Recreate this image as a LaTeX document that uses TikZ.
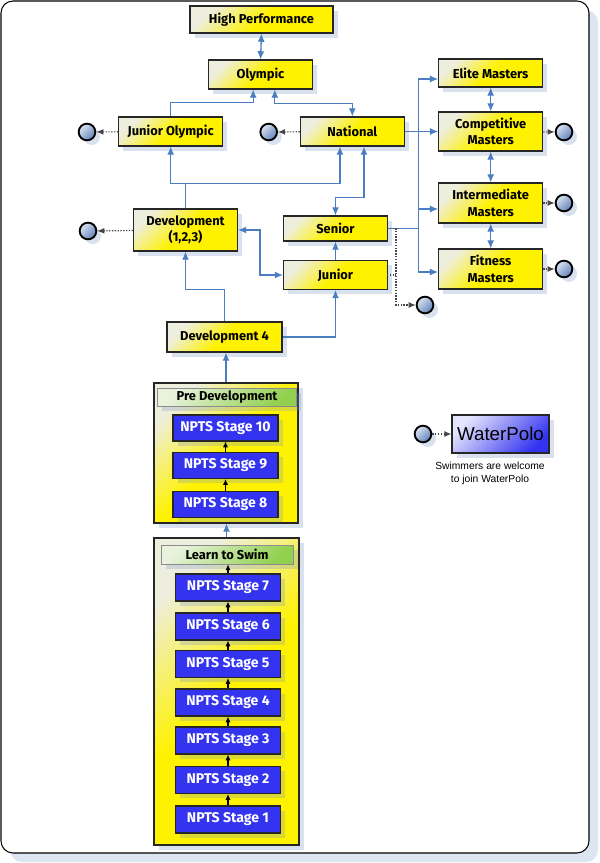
\documentclass[tikz,border=0pt]{standalone}
\usepackage{fontspec}
\setmainfont{Fira Sans}
\newfontfamily\legendfont{Liberation Sans}
\usetikzlibrary{arrows.meta,positioning,calc,shadows}

\definecolor{boxyellow}{RGB}{255,242,0}
\definecolor{paleyellow}{RGB}{238,238,222}
\definecolor{linkblue}{RGB}{74,126,193}
\definecolor{stageblue}{RGB}{51,51,240}
\definecolor{headgreen}{RGB}{146,208,80}
\definecolor{palegreen}{RGB}{232,242,220}
\definecolor{shadowblue}{RGB}{120,150,200}
\definecolor{framefill}{RGB}{220,230,242}
\definecolor{exitlight}{RGB}{220,228,240}
\definecolor{exitdark}{RGB}{95,130,188}
\definecolor{dotgray}{RGB}{70,70,70}
\definecolor{polopale}{RGB}{228,228,252}

\tikzset{
    softshadow/.style={drop shadow={shadow xshift=0.14cm, shadow yshift=-0.14cm,
        fill=shadowblue, opacity=0.28}},
    levelbox/.style={draw=black!85, line width=0.9pt, top color=paleyellow,
        bottom color=boxyellow, middle color=boxyellow, shading angle=45,
        minimum width=3.12cm, minimum height=0.87cm, inner sep=1pt, align=center,
        font=\bfseries\fontsize{11}{14}\selectfont, softshadow},
    container/.style={draw=black!85, line width=0.9pt, top color=paleyellow,
        bottom color=boxyellow, middle color=boxyellow, shading angle=45,
        inner sep=0pt, softshadow},
    headbox/.style={draw=black!45, line width=0.6pt, top color=palegreen,
        bottom color=headgreen, shading angle=45, inner sep=1pt,
        font=\bfseries\fontsize{11}{13}\selectfont, softshadow},
    stagebox/.style={draw=black!85, line width=0.9pt, fill=stageblue, text=white,
        minimum width=3.15cm, minimum height=0.78cm, inner sep=1pt,
        font=\bfseries\fontsize{12}{14}\selectfont, softshadow},
    exitpoint/.style={circle, draw=black, line width=1.6pt, inner sep=0pt,
        minimum size=0.5cm, top color=exitlight, bottom color=exitdark,
        shading angle=45, softshadow},
    polobox/.style={draw=black!85, line width=0.9pt, top color=polopale,
        bottom color=stageblue, shading angle=45, minimum width=2.91cm,
        minimum height=1.14cm, font=\legendfont\fontsize{16}{18}\selectfont,
        softshadow},
    link/.style={draw=linkblue, line width=1.1pt, -{Latex[length=7pt,width=6pt]}},
    linkboth/.style={draw=linkblue, line width=1.1pt,
        {Latex[length=7pt,width=6pt]}-{Latex[length=7pt,width=6pt]}},
    linkplain/.style={draw=linkblue, line width=1.1pt},
    exitline/.style={draw=dotgray, line width=1pt, dash pattern=on 1.2pt off 1.2pt},
    exitlink/.style={exitline, -{Latex[length=6pt,width=5pt]}},
    stepup/.style={draw=black, line width=0.9pt, -{Latex[length=5pt,width=4.5pt]}}
}

\begin{document}
\begin{tikzpicture}[x=0.03cm, y=-0.03cm]
    \useasboundingbox (0,0) rectangle (600,863);
    % outer frame
    \fill[framefill, rounded corners=0.36cm] (10,10) rectangle (598,862);
    \draw[fill=white, line width=0.9pt, rounded corners=0.36cm] (1,1) rectangle (589,853);

    % competitive levels
    \node[levelbox, minimum width=4.29cm, minimum height=0.81cm] (hp) at (261.5,19.5) {High Performance};
    \node[levelbox] (oly) at (260.5,74.5) {Olympic};
    \node[levelbox] (jrol) at (170.7,131.5) {Junior Olympic};
    \node[levelbox] (nat) at (352.3,131.5) {National};
    \node[levelbox, minimum height=1.26cm] (dev) at (185.5,230) {Development\\(1,2,3)};
    \node[levelbox, minimum height=0.75cm] (sen) at (335.5,228.5) {Senior};
    \node[levelbox] (jun) at (335.5,275) {Junior};
    \node[levelbox, minimum width=3.45cm, minimum height=0.9cm] (devfour) at (224.5,337) {Development 4};

    % masters
    \node[levelbox, minimum height=0.84cm] (elite) at (490.7,73) {Elite Masters};
    \node[levelbox, minimum height=1.17cm] (comp) at (490.7,131.5) {Competitive\\Masters};
    \node[levelbox, minimum height=1.2cm] (inter) at (490.7,203) {Intermediate\\Masters};
    \node[levelbox, minimum height=1.2cm] (fit) at (490.7,269) {Fitness\\Masters};

    % learn to swim and pre development
    \node[container, minimum width=4.32cm, minimum height=4.2cm] (predev) at (226,453) {};
    \node[headbox, minimum width=4.17cm, minimum height=0.54cm] (predevhead) at (227,397) {Pre Development};
    \node[container, minimum width=4.35cm, minimum height=9.21cm] (lts) at (226.5,691.5) {};
    \node[headbox, minimum width=3.96cm, minimum height=0.57cm] (ltshead) at (227,554.5) {Learn to Swim};
    \foreach \n/\y in {10/428, 9/465.5, 8/504.5}
        \node[stagebox] (stage\n) at (225.5,\y) {NPTS Stage \n};
    \foreach \n/\y in {7/587.5, 6/626.5, 5/664, 4/702.5, 3/740.5, 2/780, 1/819.5}
        \node[stagebox, minimum height=0.81cm] (stage\n) at (228,\y) {NPTS Stage \n};

    % exits
    \node[exitpoint] (jrolexit) at (87,132) {};
    \node[exitpoint] (natexit) at (268.7,132) {};
    \node[exitpoint] (devexit) at (88,231) {};
    \node[exitpoint] (compexit) at (564,132) {};
    \node[exitpoint] (interexit) at (564,203) {};
    \node[exitpoint] (fitexit) at (564,269) {};
    \node[exitpoint] (senexit) at (425,305) {};

    % legend
    \node[exitpoint] (legendexit) at (423,434) {};
    \node[polobox] (polo) at (500.5,434) {WaterPolo};
    \node[font=\legendfont\fontsize{8.8}{11}\selectfont, align=center] (polonote) at (490,473.5)
        {Swimmers are welcome\\to join WaterPolo};

    % pathways
    \draw[linkboth] (hp.south) -- (oly.north);
    \draw[link] (jrol.north) -- ++(0,-14) -| ([xshift=-0.22cm]oly.south);
    \draw[linkboth] ([xshift=0.43cm]oly.south) -- ++(0,14) -| (nat.north);
    \draw[link] (dev.north) -- ++(0,-25) -| (jrol.south);
    \draw[link] (dev.north) -- ++(0,-25) -| ([xshift=-0.37cm]nat.south);
    \draw[linkboth] ([xshift=0.35cm]nat.south) -- ++(0,51) -| (sen.north);
    \draw[link] (jun) -- (sen);
    \draw[linkboth] (dev.east) -- ++(22,0) |- (jun.west);
    \draw[link] (devfour.north) -- ++(0,-32) -| (dev.south);
    \draw[link] (devfour.east) -| (jun.south);
    \draw[link] (predev.north) -- (predev.north |- devfour.south);
    \draw[link] (lts.north) -- (lts.north |- predev.south);

    % into masters
    \coordinate (trunk) at ($(nat.east)!0.4!(comp.west)$);
    \draw[link] (nat) -- (comp);
    \draw[link] (trunk) |- ([yshift=-0.18cm]elite.west);
    \draw[link] (trunk) |- ([yshift=-0.18cm]inter.west);
    \draw[link] (trunk) |- ([yshift=-0.09cm]fit.west);
    \draw[linkplain, line width=1.6pt] (sen.east) -- (sen.east -| trunk);
    \draw[linkboth] (elite) -- (comp);
    \draw[linkboth] (comp) -- (inter);
    \draw[linkboth] (inter) -- (fit);

    % stage steps
    \foreach \a/\b in {1/2, 2/3, 3/4, 4/5, 5/6, 6/7, 8/9, 9/10}
        \draw[stepup] (stage\a) -- (stage\b);
    \draw[stepup] (stage7.north) -- (stage7.north |- ltshead.south);

    % leaving the club
    \draw[exitlink] (jrol) -- (jrolexit);
    \draw[exitlink] (nat) -- (natexit);
    \draw[exitlink] (dev) -- (devexit);
    \draw[exitlink] (comp) -- (compexit);
    \draw[exitlink] (inter) -- (interexit);
    \draw[exitlink] (fit) -- (fitexit);
    \draw[exitlink] ([xshift=-0.03cm]sen.east) -- ++(9,0) |- (senexit);
    \draw[exitline] ([xshift=-0.03cm]jun.east) -- ++(9,0);
    \draw[exitlink] (legendexit) -- (polo);
\end{tikzpicture}
\end{document}
